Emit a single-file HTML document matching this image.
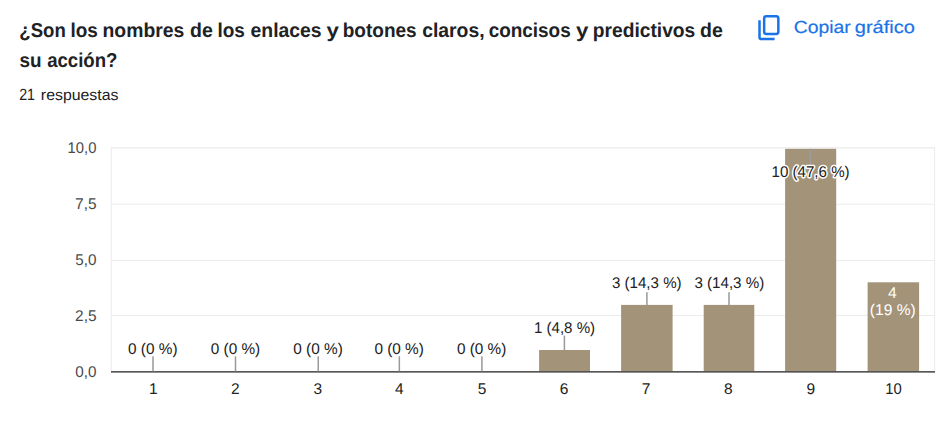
<!DOCTYPE html>
<html>
<head>
<meta charset="utf-8">
<style>
html,body{margin:0;padding:0;background:#fff;}
body{width:942px;height:439px;overflow:hidden;position:relative;font-family:"Liberation Sans",sans-serif;}
svg{position:absolute;left:0;top:0;}
text{font-family:"Liberation Sans",sans-serif;text-rendering:geometricPrecision;}
.t{font-weight:bold;font-size:20px;fill:#202124;}
.s{font-size:15.3px;fill:#202124;}
.c{font-size:17.5px;fill:#1a73e8;stroke:#1a73e8;stroke-width:0.2px;}
.ax{font-size:15.5px;fill:#4a4a4a;}
.cx{font-size:15.5px;fill:#222;}
.lb{font-size:15.5px;fill:#212121;}
.lw{font-size:15.5px;fill:#fff;}
</style>
</head>
<body>
<svg width="942" height="439" viewBox="0 0 942 439">
<rect width="942" height="439" fill="#fff"/>
<g>
<text class="t" x="19.37" y="36.7" textLength="46.38" lengthAdjust="spacingAndGlyphs">¿Son</text>
<text class="t" x="70.53" y="36.7" textLength="27.35" lengthAdjust="spacingAndGlyphs">los</text>
<text class="t" x="102.52" y="36.7" textLength="81.77" lengthAdjust="spacingAndGlyphs">nombres</text>
<text class="t" x="190.0" y="36.7" textLength="22.77" lengthAdjust="spacingAndGlyphs">de</text>
<text class="t" x="217.48" y="36.7" textLength="27.4" lengthAdjust="spacingAndGlyphs">los</text>
<text class="t" x="250.54" y="36.7" textLength="71.05" lengthAdjust="spacingAndGlyphs">enlaces</text>
<text class="t" x="326.53" y="36.7" textLength="12.39" lengthAdjust="spacingAndGlyphs">y</text>
<text class="t" x="342.75" y="36.7" textLength="73.88" lengthAdjust="spacingAndGlyphs">botones</text>
<text class="t" x="422.14" y="36.7" textLength="62.5" lengthAdjust="spacingAndGlyphs">claros,</text>
<text class="t" x="488.66" y="36.7" textLength="82.02" lengthAdjust="spacingAndGlyphs">concisos</text>
<text class="t" x="576.13" y="36.7" textLength="12.39" lengthAdjust="spacingAndGlyphs">y</text>
<text class="t" x="592.73" y="36.7" textLength="102.56" lengthAdjust="spacingAndGlyphs">predictivos</text>
<text class="t" x="700.0" y="36.7" textLength="22.77" lengthAdjust="spacingAndGlyphs">de</text>
<text class="t" x="19.58" y="66.6" textLength="22.12" lengthAdjust="spacingAndGlyphs">su</text>
<text class="t" x="47.16" y="66.6" textLength="70.27" lengthAdjust="spacingAndGlyphs">acción?</text>
</g>
<g>
<text class="s" x="19.19" y="100" textLength="15.81" lengthAdjust="spacingAndGlyphs" style="font-size:16.3px">21</text>
<text class="s" x="40.85" y="100" textLength="77.63" lengthAdjust="spacingAndGlyphs">respuestas</text>
</g>
<g fill="none" stroke="#1a73e8" stroke-width="2.5">
<rect x="764.15" y="16.35" width="14.2" height="17.7" rx="2.2"/>
<path d="M759.5 20.3 V37.2 a1.9 1.9 0 0 0 1.9 1.9 H774.6"/>
</g>
<g>
<text class="c" x="793.72" y="33.0" textLength="57.0" lengthAdjust="spacingAndGlyphs">Copiar</text>
<text class="c" x="854.76" y="33.0" textLength="60.08" lengthAdjust="spacingAndGlyphs">gráfico</text>
</g>
<g fill="#ececec">
<rect x="111" y="147.2" width="824" height="1.25"/>
<rect x="111" y="203.75" width="824" height="1"/>
<rect x="111" y="260" width="824" height="1"/>
<rect x="111" y="315" width="824" height="1"/>
<rect x="110.8" y="147.3" width="1" height="224"/>
<rect x="934.1" y="147.3" width="1" height="224"/>
</g>
<g fill="#a39378">
<rect x="539.1" y="350.0" width="50.9" height="22.0"/>
<rect x="621.1" y="304.9" width="51.5" height="67.1"/>
<rect x="703.7" y="304.9" width="50.6" height="67.1"/>
<rect x="785.1" y="148.8" width="51.1" height="223.2"/>
<rect x="867.6" y="282.3" width="51.5" height="89.7"/>
</g>
<rect x="111" y="371.05" width="824" height="1.6" fill="#505050"/>
<g fill="#999">
<rect x="152.25" y="356.3" width="1.5" height="15"/>
<rect x="234.75" y="356.3" width="1.5" height="15"/>
<rect x="317.5" y="356.3" width="1.5" height="15"/>
<rect x="398.6" y="356.3" width="1.5" height="15"/>
<rect x="481.15" y="356.3" width="1.5" height="15"/>
<rect x="563.65" y="335.6" width="1.5" height="14.5"/>
<rect x="646.15" y="292.2" width="1.5" height="13"/>
<rect x="728.25" y="292.2" width="1.5" height="13"/>
</g>
<rect x="809.75" y="148.8" width="1.5" height="16.5" fill="#9c9c9c"/>
<g>
<text class="ax" x="67.57" y="152.8" textLength="28.81" lengthAdjust="spacingAndGlyphs">10,0</text>
<text class="ax" x="75.11" y="208.8" textLength="21.55" lengthAdjust="spacingAndGlyphs">7,5</text>
<text class="ax" x="75.29" y="264.8" textLength="21.21" lengthAdjust="spacingAndGlyphs">5,0</text>
<text class="ax" x="75.12" y="320.8" textLength="21.53" lengthAdjust="spacingAndGlyphs">2,5</text>
<text class="ax" x="75.3" y="376.8" textLength="21.19" lengthAdjust="spacingAndGlyphs">0,0</text>
</g>
<g>
<text class="cx" x="148.88" y="393.6">1</text>
<text class="cx" x="230.89" y="393.6">2</text>
<text class="cx" x="313.44" y="393.6">3</text>
<text class="cx" x="394.94" y="393.6">4</text>
<text class="cx" x="477.7" y="393.6">5</text>
<text class="cx" x="559.64" y="393.6">6</text>
<text class="cx" x="641.78" y="393.6">7</text>
<text class="cx" x="724.09" y="393.6">8</text>
<text class="cx" x="806.49" y="393.6">9</text>
<text class="cx" x="885.17" y="393.6" textLength="16.51" lengthAdjust="spacingAndGlyphs">10</text>
</g>
<g>
<text class="lb" x="128.1" y="354.1" textLength="49.4" lengthAdjust="spacingAndGlyphs">0 (0 %)</text>
<text class="lb" x="210.8" y="354.1" textLength="49.4" lengthAdjust="spacingAndGlyphs">0 (0 %)</text>
<text class="lb" x="293.25" y="354.1" textLength="49.5" lengthAdjust="spacingAndGlyphs">0 (0 %)</text>
<text class="lb" x="374.4" y="354.1" textLength="49.45" lengthAdjust="spacingAndGlyphs">0 (0 %)</text>
<text class="lb" x="456.9" y="354.1" textLength="49.35" lengthAdjust="spacingAndGlyphs">0 (0 %)</text>
<text class="lb" x="533.95" y="332.8" textLength="61.18" lengthAdjust="spacingAndGlyphs">1 (4,8 %)</text>
<text class="lb" x="611.92" y="287.8" textLength="69.71" lengthAdjust="spacingAndGlyphs">3 (14,3 %)</text>
<text class="lb" x="694.42" y="287.8" textLength="69.81" lengthAdjust="spacingAndGlyphs">3 (14,3 %)</text>
<text class="lb" x="771.55" y="177.0" textLength="78.09" lengthAdjust="spacingAndGlyphs" stroke="#fff" stroke-width="3" stroke-linejoin="round">10 (47,6 %)</text>
<text class="lb" x="771.55" y="177.0" textLength="78.09" lengthAdjust="spacingAndGlyphs">10 (47,6 %)</text>
<text class="lw" x="888.14" y="297.8" textLength="8.72" lengthAdjust="spacingAndGlyphs">4</text>
<text class="lw" x="869.84" y="315.0" textLength="45.83" lengthAdjust="spacingAndGlyphs">(19 %)</text>
</g>
</svg>
</body>
</html>
